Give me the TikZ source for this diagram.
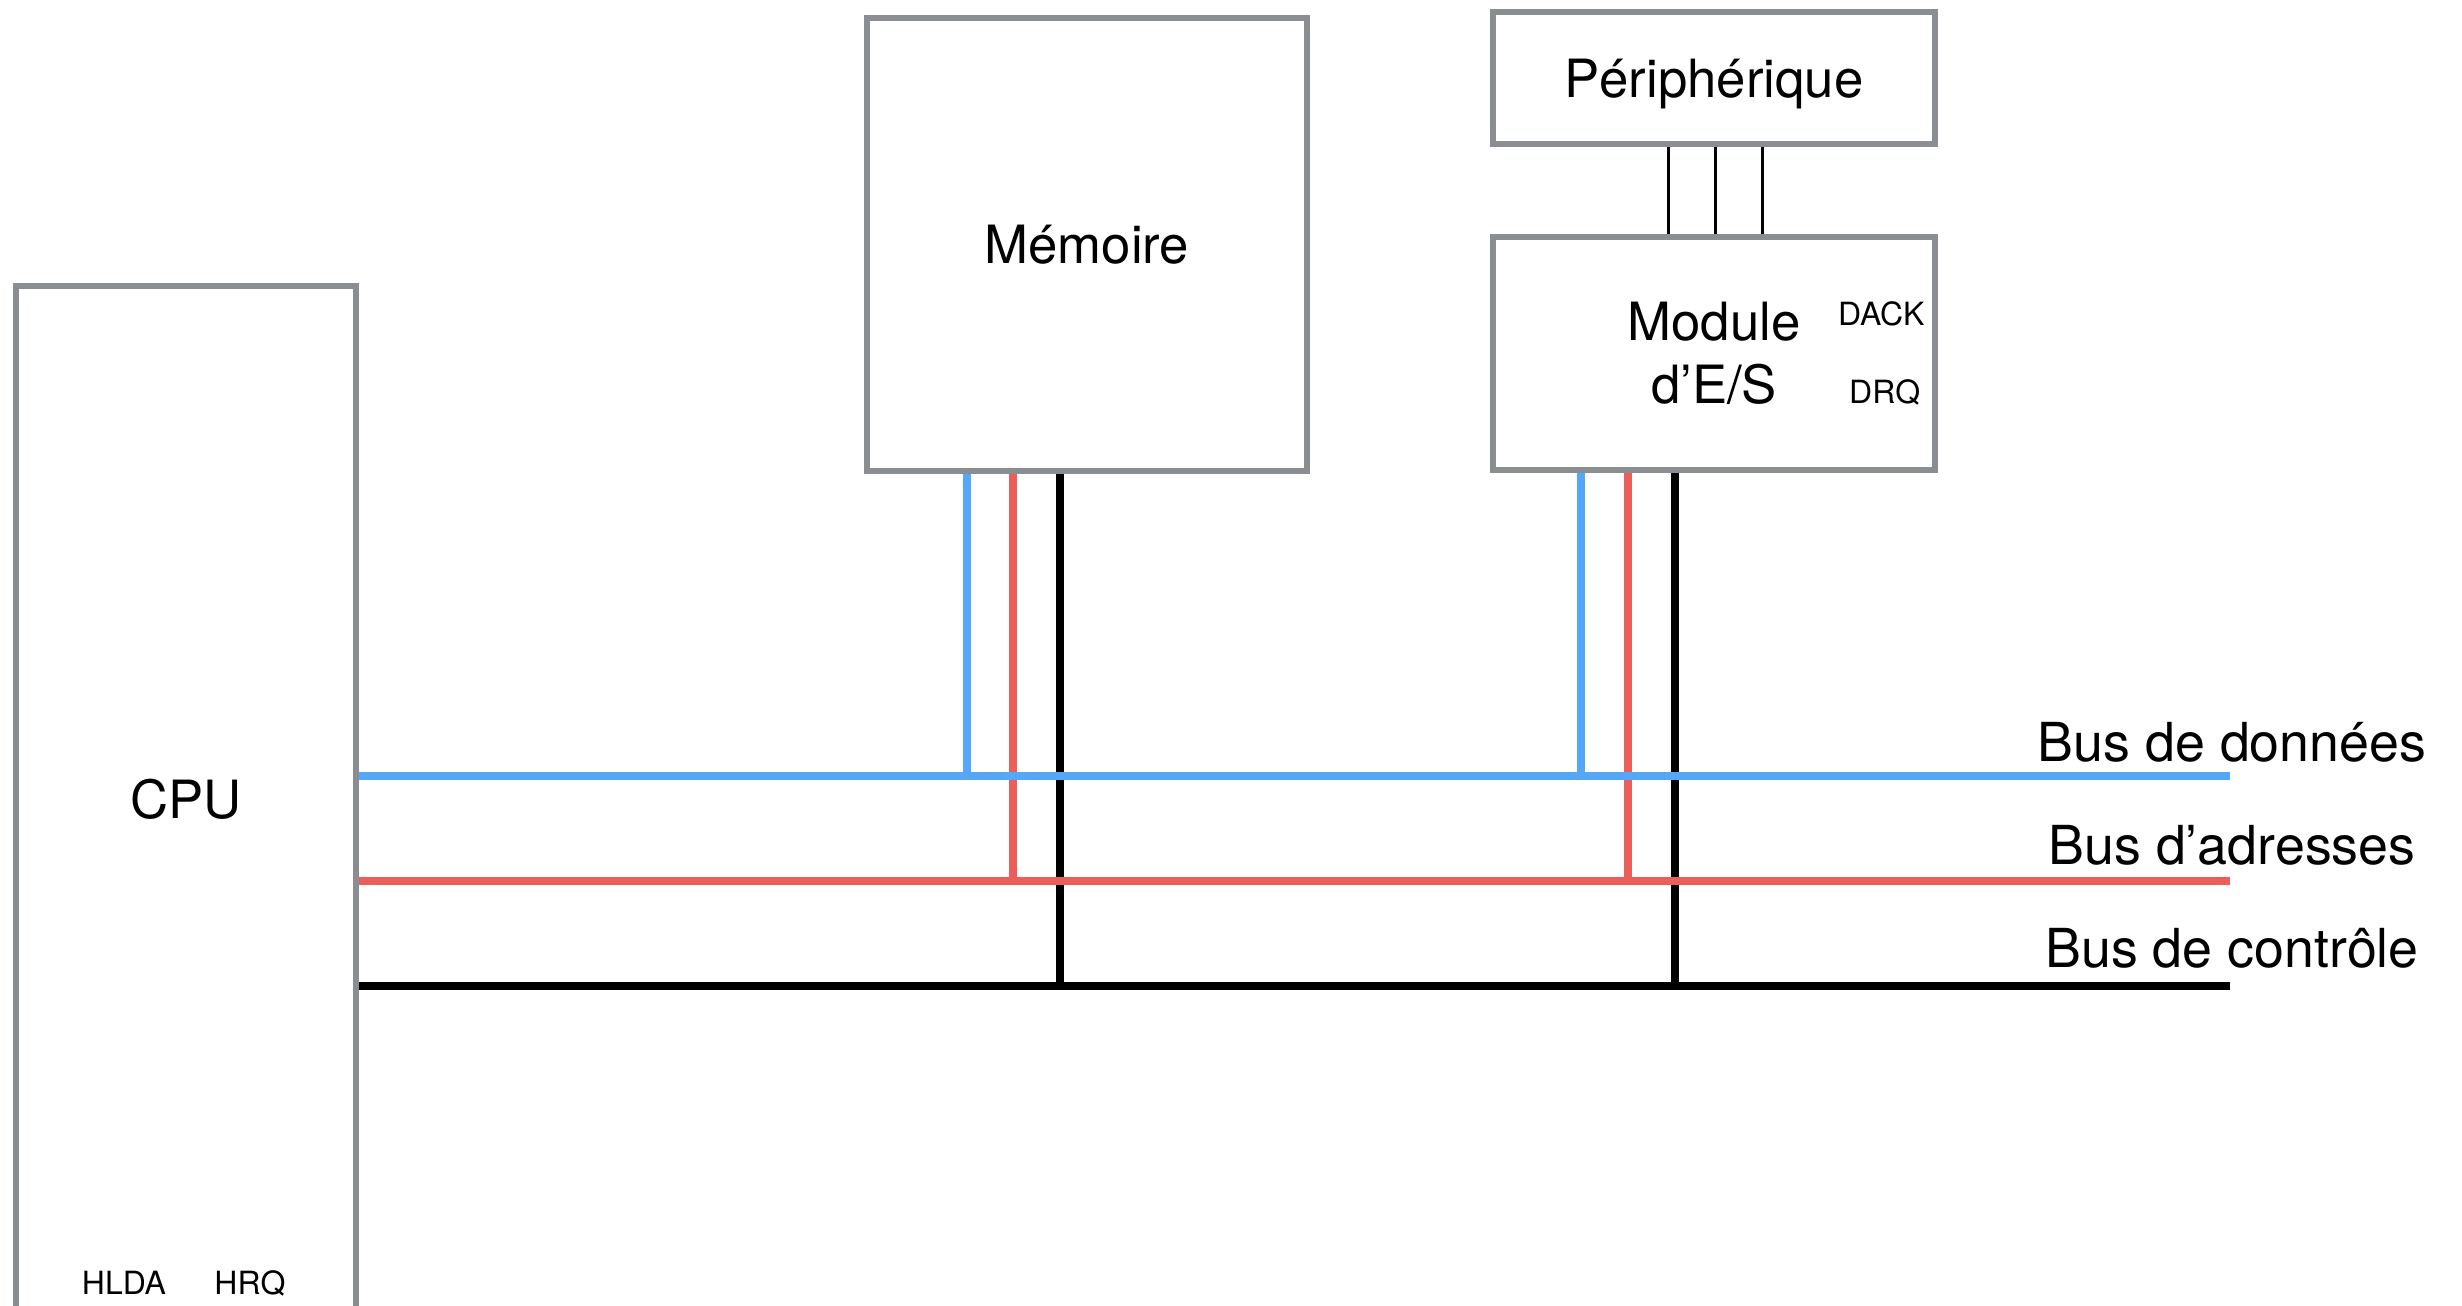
\documentclass[tikz,border=0pt]{standalone}
\usepackage{fontspec}
\setmainfont{TeX Gyre Heros}
\usepackage{xcolor}
\definecolor{ColData}{RGB}{84,167,249}
\definecolor{ColAddr}{RGB}{236,94,89}
\definecolor{ColBox}{RGB}{138,141,145}
\usepackage{tikz}
\tikzstyle{Unit}=[rectangle,draw=ColBox,line width=1.5pt,fill=white,
font=\fontsize{15pt}{18pt}\selectfont]
\tikzstyle{DataBus}=[draw=ColData,line width=2.1pt]
\tikzstyle{AddrBus}=[draw=ColAddr,line width=2.1pt]
\tikzstyle{CtrlBus}=[draw=black,line width=2.1pt]
\tikzstyle{Wire}=[draw=black,line width=0.85pt]
\tikzstyle{NodeST}=[inner sep=0pt,font=\fontsize{15.3pt}{18pt}\selectfont]
\tikzstyle{PinST}=[inner sep=0pt,font=\fontsize{9.1pt}{11pt}\selectfont]
\begin{document}
\begin{tikzpicture}[x=.1mm,y=-.1mm]
        \clip(0,0)rectangle(2462,1306);
        \node[Unit,minimum width=34mm,minimum height=102.6mm](cpu)at(186,799){CPU};
        \node[Unit,minimum width=44mm,minimum height=45.3mm](mem)at(1087,244.5){Mémoire};
        \node[Unit,minimum width=44.2mm,minimum height=13.2mm,text depth=0pt](periph)at(1714,78){Périphérique};
        \node[Unit,minimum width=44.2mm,minimum height=23.3mm,align=center](module)at(1714,353.5){Module\\d’E/S};
        \node[PinST,anchor=base east](dack)at(1925,325){DACK};
        \node[PinST,anchor=base east](drq)at(1921,403){DRQ};
        \node[PinST,anchor=base](hlda)at(124,1294){HLDA};
        \node[PinST,anchor=base](hrq)at(250,1294){HRQ};
        \coordinate(d)at(2230,776);
        \coordinate(a)at(2230,881);
        \coordinate(c)at(2230,986);
        \foreach \x in {1668,1715,1762}
            \draw[Wire](\x,0 |- periph.south)--(\x,0 |- module.north);
        \draw[DataBus](967,0 |- mem.south)--(967,0 |- d);
        \draw[AddrBus](1013,0 |- mem.south)--(1013,0 |- a);
        \draw[CtrlBus](1060,0 |- mem.south)--(1060,0 |- c);
        \draw[DataBus](1581,0 |- module.south)--(1581,0 |- d);
        \draw[AddrBus](1628,0 |- module.south)--(1628,0 |- a);
        \draw[CtrlBus](1675,0 |- module.south)--(1675,0 |- c);
        \draw[DataBus](cpu.east |- d)--(d);
        \draw[AddrBus](cpu.east |- a)--(a);
        \draw[CtrlBus](cpu.east |- c)--(c);
        \node[NodeST,anchor=base](dl)at(2232,761){Bus de données};
        \node[NodeST,anchor=base](al)at(2232,864){Bus d’adresses};
        \node[NodeST,anchor=base](cl)at(2232,967){Bus de contrôle};
    \end{tikzpicture}
\end{document}
